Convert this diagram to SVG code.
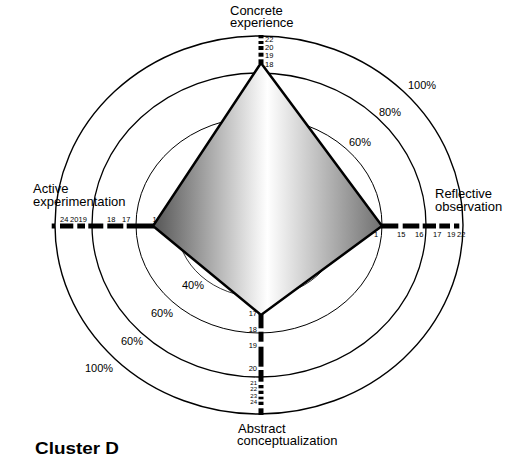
<svg xmlns="http://www.w3.org/2000/svg" width="515" height="460" viewBox="0 0 515 460">
<style>
text{font-family:"Liberation Sans",Arial,Helvetica,sans-serif;fill:#000}
.lbl{font-size:13px}
.pct{font-size:11px}
.num{font-size:7.5px}
.sm{font-size:6px}
.ring{fill:none;stroke:#000}
.bar{stroke:#000;stroke-width:5;fill:none}
.title{font-size:16px;font-weight:bold}
</style>
<defs>
<linearGradient id="fillGrad" gradientUnits="userSpaceOnUse" x1="153" y1="0" x2="382" y2="0">
<stop offset="0" stop-color="#555555"/>
<stop offset="0.5" stop-color="#ffffff"/>
<stop offset="1" stop-color="#707070"/>
</linearGradient>
</defs>
<rect width="515" height="460" fill="#fff"/>
<g id="rings">
<ellipse class="ring" cx="259" cy="225" rx="204" ry="189" stroke-width="1.4"/>
<ellipse class="ring" cx="259" cy="225" rx="167" ry="152" stroke-width="1.3"/>
<ellipse class="ring" cx="259" cy="225" rx="123" ry="108" stroke-width="1"/>
<ellipse class="ring" cx="259" cy="225" rx="82" ry="72" stroke-width="0.8"/>
</g>
<g id="ring-labels">
<text class="pct" x="408" y="89">100%</text>
<text class="pct" x="379" y="116">80%</text>
<text class="pct" x="349" y="146">60%</text>
<text class="pct" x="182" y="289">40%</text>
<text class="pct" x="151" y="317">60%</text>
<text class="pct" x="121" y="345">60%</text>
<text class="pct" x="85" y="372">100%</text>
</g>
<g id="connectors">
<g id="axis-top">
<line class="bar" x1="261" y1="35" x2="261" y2="38.3"/>
<line class="bar" x1="261" y1="41" x2="261" y2="44"/>
<line class="bar" x1="261" y1="46" x2="261" y2="50"/>
<line class="bar" x1="261" y1="52.7" x2="261" y2="56.7"/>
<line class="bar" x1="261" y1="59.3" x2="261" y2="64"/>
</g>
<g id="axis-left">
<line class="bar" x1="51.7" y1="226" x2="55" y2="226"/>
<line class="bar" x1="60" y1="226" x2="73.3" y2="226"/>
<line class="bar" x1="77.3" y1="226" x2="85" y2="226"/>
<line class="bar" x1="88.3" y1="226" x2="103.3" y2="226"/>
<line class="bar" x1="107.3" y1="226" x2="123.3" y2="226"/>
<line class="bar" x1="126.7" y1="226" x2="154" y2="226"/>
</g>
<g id="axis-right">
<line class="bar" x1="381" y1="226" x2="398.3" y2="226"/>
<line class="bar" x1="402.7" y1="226" x2="419.3" y2="226"/>
<line class="bar" x1="422.7" y1="226" x2="436" y2="226"/>
<line class="bar" x1="439.3" y1="226" x2="450" y2="226"/>
<line class="bar" x1="454" y1="226" x2="459.3" y2="226"/>
</g>
<g id="axis-bottom">
<line class="bar" x1="261" y1="314" x2="261" y2="328.3"/>
<line class="bar" x1="261" y1="331.7" x2="261" y2="341.7"/>
<line class="bar" x1="261" y1="346.7" x2="261" y2="366.7"/>
<line class="bar" x1="261" y1="370" x2="261" y2="381.7"/>
<line class="bar" x1="261" y1="385" x2="261" y2="388.3"/>
<line class="bar" x1="261" y1="390.7" x2="261" y2="394"/>
<line class="bar" x1="261" y1="396.7" x2="261" y2="399.3"/>
<line class="bar" x1="261" y1="401.7" x2="261" y2="405"/>
<line class="bar" x1="261" y1="408.3" x2="261" y2="415"/>
</g>
</g>
<g id="axis-numbers">
<text class="num" x="265" y="42">22</text>
<text class="num" x="265" y="50">20</text>
<text class="num" x="265" y="58">19</text>
<text class="num" x="265" y="67">18</text>
<text class="num" x="60" y="222">24</text>
<text class="num" x="70" y="222">20</text>
<text class="num" x="78.5" y="222">19</text>
<text class="num" x="107" y="222">18</text>
<text class="num" x="122" y="222">17</text>
<text class="num" x="152.5" y="222">1</text>
<text class="num" x="374" y="237">1</text>
<text class="num" x="397" y="237">15</text>
<text class="num" x="415" y="237">16</text>
<text class="num" x="433" y="237">17</text>
<text class="num" x="447" y="237">19</text>
<text class="num" x="457" y="237">22</text>
<text class="num" x="257" y="316" text-anchor="end">17</text>
<text class="num" x="257" y="332" text-anchor="end">18</text>
<text class="num" x="257" y="347.5" text-anchor="end">19</text>
<text class="num" x="257" y="371" text-anchor="end">20</text>
<text class="sm" x="257" y="385" text-anchor="end">21</text>
<text class="sm" x="257" y="391.3" text-anchor="end">22</text>
<text class="sm" x="257" y="397.6" text-anchor="end">23</text>
<text class="sm" x="257" y="404" text-anchor="end">24</text>
</g>
<g id="profile">
<polygon points="261,63 382,226 261,315 153,226" fill="url(#fillGrad)" stroke="#000" stroke-width="2.5" stroke-linejoin="miter"/>
</g>
<g id="node-concrete">
<text class="lbl" x="230" y="15">Concrete</text>
<text class="lbl" x="230" y="27">experience</text>
</g>
<g id="node-active">
<text class="lbl" x="33" y="193">Active</text>
<text class="lbl" x="33" y="206">experimentation</text>
</g>
<g id="node-reflective">
<text class="lbl" x="435" y="198">Reflective</text>
<text class="lbl" x="435" y="211">observation</text>
</g>
<g id="node-abstract">
<text class="lbl" x="238" y="433">Abstract</text>
<text class="lbl" x="237" y="445">conceptualization</text>
</g>
<g id="title">
<text class="title" x="35" y="454" textLength="84" lengthAdjust="spacingAndGlyphs">Cluster D</text>
</g>
</svg>
